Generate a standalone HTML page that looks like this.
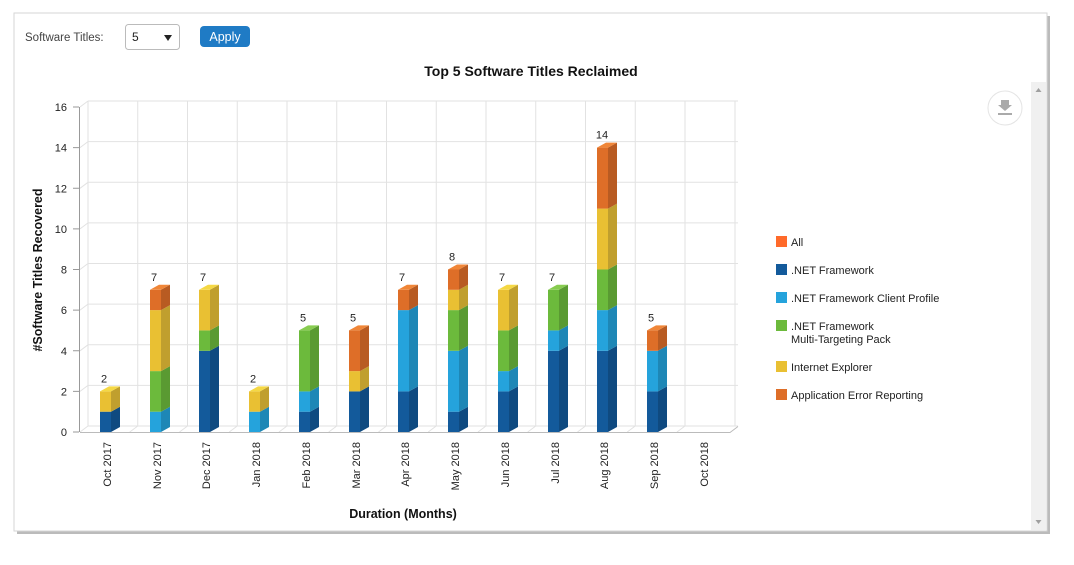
<!DOCTYPE html>
<html><head><meta charset="utf-8"><style>
body{margin:0;background:#fff;width:1074px;height:560px;overflow:hidden;font-family:"Liberation Sans",sans-serif}
.f1{fill:#135a9b}.s1{fill:#0f4a80}.t1{fill:#2a6cad}
.f2{fill:#25a3dc}.s2{fill:#1e87b6}.t2{fill:#4cb6e6}
.f3{fill:#6cba3c}.s3{fill:#5a9a32}.t3{fill:#88cc50}
.f4{fill:#e9c033}.s4{fill:#c09f2e}.t4{fill:#f5d844}
.f5{fill:#de6e28}.s5{fill:#b85b22}.t5{fill:#f08638}
.gl{stroke:#e2e2e2;fill:none}
.tk{font-size:11px;fill:#222}
</style></head><body>
<svg width="1074" height="560" xmlns="http://www.w3.org/2000/svg" font-family="Liberation Sans, sans-serif">
<rect x="17" y="16" width="1033" height="518" fill="#bbb"/>
<rect x="14" y="13" width="1033" height="518" fill="#fff" stroke="#d6d6d6"/>
<text x="25" y="41" font-size="11.5" fill="#444">Software Titles:</text>
<rect x="125.5" y="24.5" width="54" height="25" rx="3" fill="#fff" stroke="#bbb"/>
<text x="132" y="41" font-size="12" fill="#222">5</text>
<path d="M164 35 h8 l-4 6z" fill="#222"/>
<rect x="200" y="26" width="50" height="21" rx="4" fill="#1f7bc5"/>
<text x="225" y="41" font-size="12.5" fill="#fff" text-anchor="middle">Apply</text>
<text x="531" y="76" font-size="14" font-weight="bold" text-anchor="middle" fill="#111">Top 5 Software Titles Reclaimed</text>
<rect x="1031" y="82" width="15" height="448" fill="#f0f0f0"/>
<path d="M1035.5 92 l3 -4 l3 4z" fill="#a0a0a0"/>
<path d="M1035.5 520 l3 4 l3 -4z" fill="#a0a0a0"/>
<circle cx="1005" cy="108" r="17" fill="#fff" stroke="#e4e4e4"/>
<path d="M1001 100 h8 v5 h3 l-7 6 l-7 -6 h3z" fill="#aaa"/><rect x="998" y="113" width="14" height="2" fill="#aaa"/>

<!-- grid -->
<g class="gl">
<path d="M88 426H738M88 385.4H738M88 344.8H738M88 304.1H738M88 263.5H738M88 222.9H738M88 182.3H738M88 141.6H738M88 101H738"/>
<path d="M80 432L88 426M80 391.4L88 385.4M80 350.8L88 344.8M80 310.1L88 304.1M80 269.5L88 263.5M80 228.9L88 222.9M80 188.3L88 182.3M80 147.6L88 141.6M80 107L88 101"/>
<path d="M88 101V426M137.75 101V426M187.5 101V426M237.25 101V426M287 101V426M336.75 101V426M386.5 101V426M436.25 101V426M486 101V426M535.75 101V426M585.5 101V426M635.25 101V426M685 101V426M735 101V426"/>
<path d="M129.75 432L137.75 426M179.5 432L187.5 426M229.25 432L237.25 426M279 432L287 426M328.75 432L336.75 426M378.5 432L386.5 426M428.25 432L436.25 426M478 432L486 426M527.75 432L535.75 426M577.5 432L585.5 426M627.25 432L635.25 426M677 432L685 426"/>
</g>
<path d="M73 432H79M73 391.4H79M73 350.8H79M73 310.1H79M73 269.5H79M73 228.9H79M73 188.3H79M73 147.6H79M73 107H79" stroke="#999"/>
<line x1="79.5" y1="107" x2="79.5" y2="432" stroke="#999"/>
<path d="M80 432.5L730 432.5L738 426.5" fill="none" stroke="#bbb"/>
<g class="tk" text-anchor="end">
<text x="67" y="436">0</text><text x="67" y="395.4">2</text><text x="67" y="354.8">4</text><text x="67" y="314.1">6</text><text x="67" y="273.5">8</text><text x="67" y="232.9">10</text><text x="67" y="192.3">12</text><text x="67" y="151.6">14</text><text x="67" y="111">16</text>
</g>

<!-- bars -->
<g transform="translate(100,0)">
<rect class="f1" x="0" y="411.7" width="11" height="20.3"/><polygon class="s1" points="11,432 20,427 20,406.7 11,411.7"/>
<rect class="f4" x="0" y="391.4" width="11" height="20.3"/><polygon class="s4" points="11,411.7 20,406.7 20,386.4 11,391.4"/>
<polygon class="t4" points="0,391.4 9,386.4 20,386.4 11,391.4"/>
<text class="tk" x="4" y="382.4" text-anchor="middle">2</text>
</g>
<g transform="translate(150,0)">
<rect class="f2" x="0" y="411.7" width="11" height="20.3"/><polygon class="s2" points="11,432 20,427 20,406.7 11,411.7"/>
<rect class="f3" x="0" y="371.1" width="11" height="40.6"/><polygon class="s3" points="11,411.7 20,406.7 20,366.1 11,371.1"/>
<rect class="f4" x="0" y="310.1" width="11" height="61"/><polygon class="s4" points="11,371.1 20,366.1 20,305.1 11,310.1"/>
<rect class="f5" x="0" y="289.8" width="11" height="20.3"/><polygon class="s5" points="11,310.1 20,305.1 20,284.8 11,289.8"/>
<polygon class="t5" points="0,289.8 9,284.8 20,284.8 11,289.8"/>
<text class="tk" x="4" y="280.8" text-anchor="middle">7</text>
</g>
<g transform="translate(199,0)">
<rect class="f1" x="0" y="350.8" width="11" height="81.2"/><polygon class="s1" points="11,432 20,427 20,345.8 11,350.8"/>
<rect class="f3" x="0" y="330.4" width="11" height="20.4"/><polygon class="s3" points="11,350.8 20,345.8 20,325.4 11,330.4"/>
<rect class="f4" x="0" y="289.8" width="11" height="40.6"/><polygon class="s4" points="11,330.4 20,325.4 20,284.8 11,289.8"/>
<polygon class="t4" points="0,289.8 9,284.8 20,284.8 11,289.8"/>
<text class="tk" x="4" y="280.8" text-anchor="middle">7</text>
</g>
<g transform="translate(249,0)">
<rect class="f2" x="0" y="411.7" width="11" height="20.3"/><polygon class="s2" points="11,432 20,427 20,406.7 11,411.7"/>
<rect class="f4" x="0" y="391.4" width="11" height="20.3"/><polygon class="s4" points="11,411.7 20,406.7 20,386.4 11,391.4"/>
<polygon class="t4" points="0,391.4 9,386.4 20,386.4 11,391.4"/>
<text class="tk" x="4" y="382.4" text-anchor="middle">2</text>
</g>
<g transform="translate(299,0)">
<rect class="f1" x="0" y="411.7" width="11" height="20.3"/><polygon class="s1" points="11,432 20,427 20,406.7 11,411.7"/>
<rect class="f2" x="0" y="391.4" width="11" height="20.3"/><polygon class="s2" points="11,411.7 20,406.7 20,386.4 11,391.4"/>
<rect class="f3" x="0" y="330.4" width="11" height="61"/><polygon class="s3" points="11,391.4 20,386.4 20,325.4 11,330.4"/>
<polygon class="t3" points="0,330.4 9,325.4 20,325.4 11,330.4"/>
<text class="tk" x="4" y="321.4" text-anchor="middle">5</text>
</g>
<g transform="translate(349,0)">
<rect class="f1" x="0" y="391.4" width="11" height="40.6"/><polygon class="s1" points="11,432 20,427 20,386.4 11,391.4"/>
<rect class="f4" x="0" y="371.1" width="11" height="20.3"/><polygon class="s4" points="11,391.4 20,386.4 20,366.1 11,371.1"/>
<rect class="f5" x="0" y="330.4" width="11" height="40.7"/><polygon class="s5" points="11,371.1 20,366.1 20,325.4 11,330.4"/>
<polygon class="t5" points="0,330.4 9,325.4 20,325.4 11,330.4"/>
<text class="tk" x="4" y="321.4" text-anchor="middle">5</text>
</g>
<g transform="translate(398,0)">
<rect class="f1" x="0" y="391.4" width="11" height="40.6"/><polygon class="s1" points="11,432 20,427 20,386.4 11,391.4"/>
<rect class="f2" x="0" y="310.1" width="11" height="81.3"/><polygon class="s2" points="11,391.4 20,386.4 20,305.1 11,310.1"/>
<rect class="f5" x="0" y="289.8" width="11" height="20.3"/><polygon class="s5" points="11,310.1 20,305.1 20,284.8 11,289.8"/>
<polygon class="t5" points="0,289.8 9,284.8 20,284.8 11,289.8"/>
<text class="tk" x="4" y="280.8" text-anchor="middle">7</text>
</g>
<g transform="translate(448,0)">
<rect class="f1" x="0" y="411.7" width="11" height="20.3"/><polygon class="s1" points="11,432 20,427 20,406.7 11,411.7"/>
<rect class="f2" x="0" y="350.8" width="11" height="60.9"/><polygon class="s2" points="11,411.7 20,406.7 20,345.8 11,350.8"/>
<rect class="f3" x="0" y="310.1" width="11" height="40.7"/><polygon class="s3" points="11,350.8 20,345.8 20,305.1 11,310.1"/>
<rect class="f4" x="0" y="289.8" width="11" height="20.3"/><polygon class="s4" points="11,310.1 20,305.1 20,284.8 11,289.8"/>
<rect class="f5" x="0" y="269.5" width="11" height="20.3"/><polygon class="s5" points="11,289.8 20,284.8 20,264.5 11,269.5"/>
<polygon class="t5" points="0,269.5 9,264.5 20,264.5 11,269.5"/>
<text class="tk" x="4" y="260.5" text-anchor="middle">8</text>
</g>
<g transform="translate(498,0)">
<rect class="f1" x="0" y="391.4" width="11" height="40.6"/><polygon class="s1" points="11,432 20,427 20,386.4 11,391.4"/>
<rect class="f2" x="0" y="371.1" width="11" height="20.3"/><polygon class="s2" points="11,391.4 20,386.4 20,366.1 11,371.1"/>
<rect class="f3" x="0" y="330.4" width="11" height="40.7"/><polygon class="s3" points="11,371.1 20,366.1 20,325.4 11,330.4"/>
<rect class="f4" x="0" y="289.8" width="11" height="40.6"/><polygon class="s4" points="11,330.4 20,325.4 20,284.8 11,289.8"/>
<polygon class="t4" points="0,289.8 9,284.8 20,284.8 11,289.8"/>
<text class="tk" x="4" y="280.8" text-anchor="middle">7</text>
</g>
<g transform="translate(548,0)">
<rect class="f1" x="0" y="350.8" width="11" height="81.2"/><polygon class="s1" points="11,432 20,427 20,345.8 11,350.8"/>
<rect class="f2" x="0" y="330.4" width="11" height="20.4"/><polygon class="s2" points="11,350.8 20,345.8 20,325.4 11,330.4"/>
<rect class="f3" x="0" y="289.8" width="11" height="40.6"/><polygon class="s3" points="11,330.4 20,325.4 20,284.8 11,289.8"/>
<polygon class="t3" points="0,289.8 9,284.8 20,284.8 11,289.8"/>
<text class="tk" x="4" y="280.8" text-anchor="middle">7</text>
</g>
<g transform="translate(597,0)">
<rect class="f1" x="0" y="350.8" width="11" height="81.2"/><polygon class="s1" points="11,432 20,427 20,345.8 11,350.8"/>
<rect class="f2" x="0" y="310.1" width="11" height="40.7"/><polygon class="s2" points="11,350.8 20,345.8 20,305.1 11,310.1"/>
<rect class="f3" x="0" y="269.5" width="11" height="40.6"/><polygon class="s3" points="11,310.1 20,305.1 20,264.5 11,269.5"/>
<rect class="f4" x="0" y="208.6" width="11" height="60.9"/><polygon class="s4" points="11,269.5 20,264.5 20,203.6 11,208.6"/>
<rect class="f5" x="0" y="147.6" width="11" height="61"/><polygon class="s5" points="11,208.6 20,203.6 20,142.6 11,147.6"/>
<polygon class="t5" points="0,147.6 9,142.6 20,142.6 11,147.6"/>
<text class="tk" x="5" y="138.6" text-anchor="middle">14</text>
</g>
<g transform="translate(647,0)">
<rect class="f1" x="0" y="391.4" width="11" height="40.6"/><polygon class="s1" points="11,432 20,427 20,386.4 11,391.4"/>
<rect class="f2" x="0" y="350.8" width="11" height="40.6"/><polygon class="s2" points="11,391.4 20,386.4 20,345.8 11,350.8"/>
<rect class="f5" x="0" y="330.4" width="11" height="20.4"/><polygon class="s5" points="11,350.8 20,345.8 20,325.4 11,330.4"/>
<polygon class="t5" points="0,330.4 9,325.4 20,325.4 11,330.4"/>
<text class="tk" x="4" y="321.4" text-anchor="middle">5</text>
</g>

<!-- category labels -->
<g class="tk" text-anchor="end">
<text transform="translate(111,442) rotate(-90)">Oct 2017</text>
<text transform="translate(161,442) rotate(-90)">Nov 2017</text>
<text transform="translate(210,442) rotate(-90)">Dec 2017</text>
<text transform="translate(260,442) rotate(-90)">Jan 2018</text>
<text transform="translate(310,442) rotate(-90)">Feb 2018</text>
<text transform="translate(360,442) rotate(-90)">Mar 2018</text>
<text transform="translate(409,442) rotate(-90)">Apr 2018</text>
<text transform="translate(459,442) rotate(-90)">May 2018</text>
<text transform="translate(509,442) rotate(-90)">Jun 2018</text>
<text transform="translate(559,442) rotate(-90)">Jul 2018</text>
<text transform="translate(608,442) rotate(-90)">Aug 2018</text>
<text transform="translate(658,442) rotate(-90)">Sep 2018</text>
<text transform="translate(708,442) rotate(-90)">Oct 2018</text>
</g>

<text transform="translate(42,270) rotate(-90)" font-size="12.5" font-weight="bold" text-anchor="middle" fill="#111">#Software Titles Recovered</text>
<text x="403" y="518" font-size="12.5" font-weight="bold" text-anchor="middle" fill="#111">Duration (Months)</text>
<g font-size="11" fill="#222">
<rect x="776" y="236" width="11" height="11" fill="#ff6a2a"/><text x="791" y="246">All</text>
<rect x="776" y="264" width="11" height="11" fill="#135a9b"/><text x="791" y="274">.NET Framework</text>
<rect x="776" y="292" width="11" height="11" fill="#25a3dc"/><text x="791" y="302">.NET Framework Client Profile</text>
<rect x="776" y="320" width="11" height="11" fill="#6cba3c"/><text x="791" y="330">.NET Framework</text><text x="791" y="343">Multi-Targeting Pack</text>
<rect x="776" y="361" width="11" height="11" fill="#e9c033"/><text x="791" y="371">Internet Explorer</text>
<rect x="776" y="389" width="11" height="11" fill="#de6e28"/><text x="791" y="399">Application Error Reporting</text>
</g>
</svg>
</body></html>
